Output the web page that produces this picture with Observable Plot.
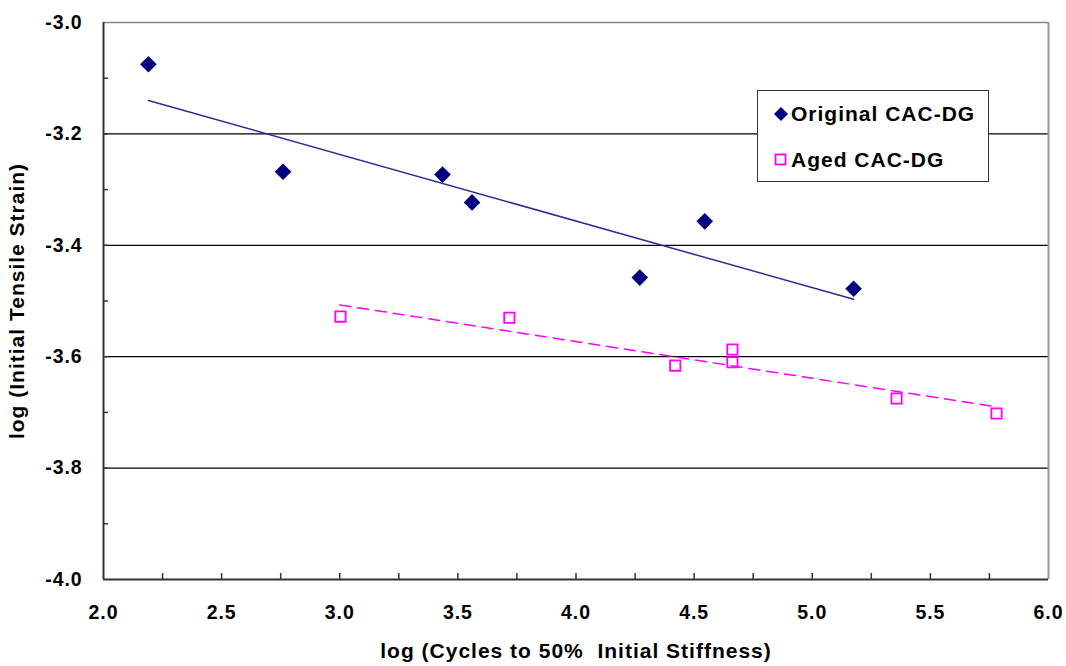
<!DOCTYPE html>
<html>
<head>
<meta charset="utf-8">
<script src="https://cdn.jsdelivr.net/npm/d3@7"></script>
<script src="https://cdn.jsdelivr.net/npm/@observablehq/plot@0.6"></script>
<style>
  body { margin: 0; background: #fff; }
  #wrap { position: relative; width: 1066px; height: 666px; font-family: "Liberation Sans", Arial, sans-serif; }
  #wrap svg text { letter-spacing: 0.9px; font-weight: bold; }
  #wrap svg g[aria-label="x-axis tick label"] text,
  #wrap svg g[aria-label="y-axis tick label"] text { font-size: 19.5px; }
  #wrap svg g[aria-label="x-axis label"] text,
  #wrap svg g[aria-label="y-axis label"] text { font-size: 21px; letter-spacing: 1px; }
  #legend { position: absolute; left: 757px; top: 90px; width: 230px; height: 90px; border: 1px solid #333; background: #fff;
    font-weight: bold; font-size: 21px; letter-spacing: 1px; color: #000; }
  .row { position: absolute; left: 16px; display: flex; align-items: center; white-space: nowrap; }
  .row svg { margin-right: 3px; }
</style>
</head>
<body>
<div id="wrap"></div>
<script>
// Original CAC-DG
const origX = [2.19, 2.76, 3.435, 3.56, 4.27, 4.545, 5.175];
const origY = [-3.075, -3.268, -3.273, -3.323, -3.458, -3.357, -3.478];
// Aged CAC-DG
const agedX = [3.003, 3.718, 4.42, 4.662, 4.662, 5.357, 5.78];
const agedY = [-3.528, -3.530, -3.616, -3.587, -3.610, -3.675, -3.702];
// Trend lines (endpoints)
const origTrendX = [2.19, 5.175];
const origTrendY = [-3.140, -3.497];
const agedTrendX = [3.0, 5.78];
const agedTrendY = [-3.507, -3.690];
// Axes
const xTicks = [2.0, 2.5, 3.0, 3.5, 4.0, 4.5, 5.0, 5.5, 6.0];
const xMinor = [2.25, 2.5, 2.75, 3.0, 3.25, 3.5, 3.75, 4.0, 4.25, 4.5, 4.75, 5.0, 5.25, 5.5, 5.75];
const yTicks = [-4.0, -3.8, -3.6, -3.4, -3.2, -3.0];
const yMinor = [-3.9, -3.8, -3.7, -3.6, -3.5, -3.4, -3.3, -3.2, -3.1];
const yGrid = [-3.8, -3.6, -3.4, -3.2];
const xTitle = "log (Cycles to 50%  Initial Stiffness)";
const yTitle = "log (Initial Tensile Strain)";
const seriesNames = ["Original CAC-DG", "Aged CAC-DG"];

const orig = origX.map((x, i) => ({x, y: origY[i]}));
const aged = agedX.map((x, i) => ({x, y: agedY[i]}));
const origTrend = origTrendX.map((x, i) => ({x, y: origTrendY[i]}));
const agedTrend = agedTrendX.map((x, i) => ({x, y: agedTrendY[i]}));

const chart = Plot.plot({
  width: 1066,
  height: 666,
  marginLeft: 103,
  marginRight: 18,
  marginTop: 22,
  marginBottom: 87,
  style: { fontFamily: "Liberation Sans, Arial, sans-serif", fontSize: "19.5px", fontWeight: "bold", color: "#000", background: "#fff" },
  x: { domain: [2, 6] },
  y: { domain: [-4, -3] },
  marks: [
    Plot.ruleY(yGrid, { stroke: "#000", strokeWidth: 1.3 }),
    Plot.ruleY([-3], { stroke: "#888", strokeWidth: 1.3 }),
    Plot.ruleX([6], { stroke: "#999", strokeWidth: 2 }),
    Plot.axisX({ ticks: xTicks, tickSize: 0, tickPadding: 26, tickFormat: d => d.toFixed(1),
      label: xTitle, labelAnchor: "center", labelOffset: 78, labelArrow: "none" }),
    Plot.axisX({ ticks: xMinor, tickSize: -6, tickFormat: () => "", label: null, stroke: "#333", strokeWidth: 1.5 }),
    Plot.axisY({ ticks: yTicks, tickSize: 0, tickPadding: 21, tickFormat: d => d.toFixed(1),
      label: yTitle, labelAnchor: "center", labelOffset: 94, labelArrow: "none" }),
    Plot.axisY({ ticks: yMinor, tickSize: -5, tickFormat: () => "", label: null, stroke: "#333", strokeWidth: 1.5 }),
    Plot.ruleX([2], { stroke: "#333", strokeWidth: 2 }),
    Plot.ruleY([-4], { stroke: "#333", strokeWidth: 2 }),
    Plot.line(origTrend, { x: "x", y: "y", stroke: "#2a2a9a", strokeWidth: 1.5 }),
    Plot.line(agedTrend, { x: "x", y: "y", stroke: "#ff00ff", strokeWidth: 1.5, strokeDasharray: "11,7" }),
    Plot.dot(orig, { x: "x", y: "y", symbol: "diamond2", r: 7.5, fill: "#000080", stroke: "none" }),
    Plot.dot(aged, { x: "x", y: "y", symbol: "square", r: 5.8, fill: "none", stroke: "#ff00ff", strokeWidth: 1.8 })
  ]
});

const wrap = document.getElementById("wrap");
wrap.appendChild(chart);

const legend = document.createElement("div");
legend.id = "legend";
legend.innerHTML = `
  <div class="row" style="top:11px"><svg width="14" height="14"><path d="M7,0L14,7L7,14L0,7Z" fill="#000080"/></svg><span>${seriesNames[0]}</span></div>
  <div class="row" style="top:57px"><svg width="14" height="14"><rect x="1.5" y="1.5" width="10" height="10" fill="none" stroke="#ff00ff" stroke-width="1.8"/></svg><span>${seriesNames[1]}</span></div>`;
wrap.appendChild(legend);
</script>
</body>
</html>
